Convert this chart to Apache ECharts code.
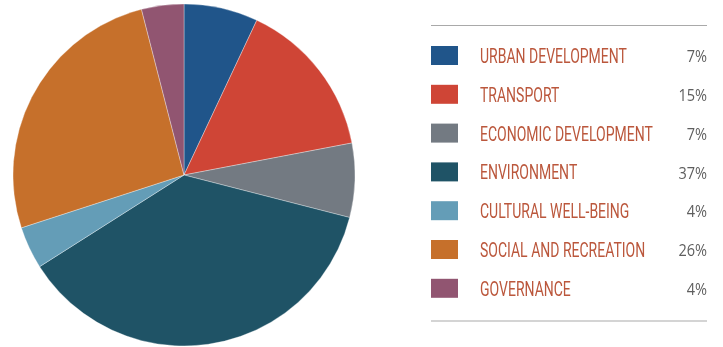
<!DOCTYPE html>
<html>
<head>
<meta charset="utf-8">
<script src="https://cdn.jsdelivr.net/npm/echarts@6/dist/echarts.min.js"></script>
<style>
  html, body { margin: 0; padding: 0; background: #fff; }
  #chart { width: 723px; height: 347px; }
</style>
</head>
<body>
<div id="chart"></div>
<script>
// Budget share by category (percent)
const categories = [
  'URBAN DEVELOPMENT',
  'TRANSPORT',
  'ECONOMIC DEVELOPMENT',
  'ENVIRONMENT',
  'CULTURAL WELL-BEING',
  'SOCIAL AND RECREATION',
  'GOVERNANCE'
];
const shares = [7, 15, 7, 37, 4, 26, 4];
const palette = ['#20558a', '#cf4536', '#737a82', '#1f5366', '#649db7', '#c6702b', '#915571'];

const chart = echarts.init(document.getElementById('chart'));

// Side key: rule lines, swatches, condensed names and right-aligned percentages
const keyLeft = 431, keyRight = 707, rowTop = 55.5, rowStep = 38.8;
const keyItems = [
  { type: 'line', shape: { x1: keyLeft, y1: 25.5, x2: keyRight, y2: 25.5 }, style: { stroke: '#a9a9a9', lineWidth: 1.2 } },
  { type: 'line', shape: { x1: keyLeft, y1: 321, x2: keyRight, y2: 321 }, style: { stroke: '#a9a9a9', lineWidth: 1.2 } }
];
categories.forEach((name, i) => {
  const cy = rowTop + i * rowStep;
  keyItems.push({
    type: 'rect',
    shape: { x: keyLeft, y: cy - 9.5, width: 27, height: 19 },
    style: { fill: palette[i] }
  });
  keyItems.push({
    type: 'text',
    x: 480, y: cy + 2.5,
    scaleX: 0.7,
    style: {
      text: name,
      x: 0, y: 0,
      textAlign: 'left',
      textVerticalAlign: 'middle',
      font: '20px Roboto',
      fill: '#bb573c'
    }
  });
  keyItems.push({
    type: 'text',
    x: keyRight, y: cy + 2,
    scaleX: 0.88,
    style: {
      text: shares[i] + '%',
      x: 0, y: 0,
      textAlign: 'right',
      textVerticalAlign: 'middle',
      font: '16.5px "Open Sans"',
      fill: '#5e5e5e'
    }
  });
});

chart.setOption({
  animation: false,
  color: palette,
  graphic: { elements: keyItems },
  series: [{
    type: 'pie',
    center: [184, 175],
    radius: 171,
    startAngle: 90,
    clockwise: true,
    label: { show: false },
    labelLine: { show: false },
    itemStyle: { borderColor: 'rgba(255,255,255,0.55)', borderWidth: 0.6 },
    data: categories.map((name, i) => ({ name, value: shares[i] }))
  }]
});
</script>
</body>
</html>
